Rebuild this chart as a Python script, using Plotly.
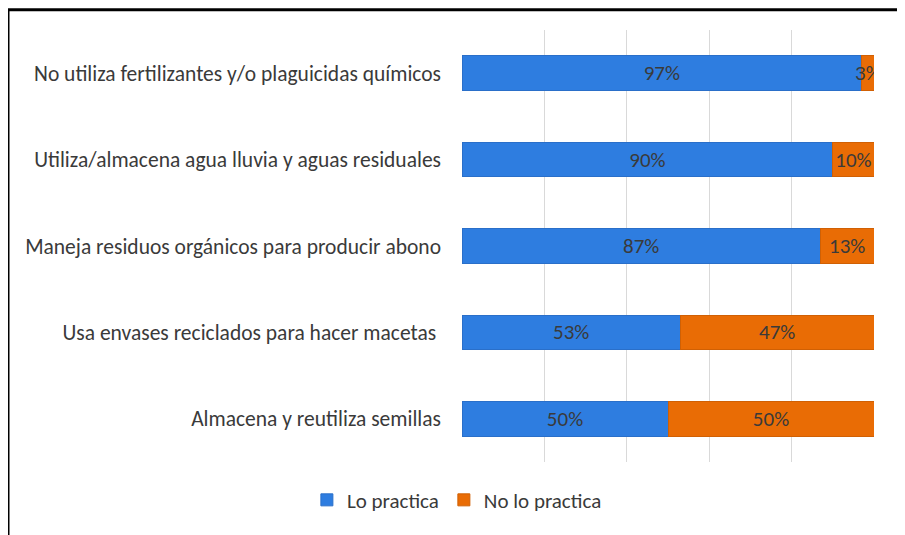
import plotly.graph_objects as go

categories = [
    "No utiliza fertilizantes y/o plaguicidas químicos",
    "Utiliza/almacena agua lluvia y aguas residuales",
    "Maneja residuos orgánicos para producir abono",
    "Usa envases reciclados para hacer macetas ",
    "Almacena y reutiliza semillas",
]
lo_practica = [97, 90, 87, 53, 50]
no_lo_practica = [3, 10, 13, 47, 50]

blue = "#2E7DE0"
orange = "#E96C05"
text_col = "#3A3A3A"
font_fam = "Carlito, 'Open Sans', sans-serif"

fig = go.Figure()
fig.add_trace(go.Bar(
    y=categories, x=lo_practica, name="Lo practica", orientation="h",
    marker=dict(color=blue, line=dict(color="#2A6FC9", width=1)),
    text=[f"{v}%" for v in lo_practica], textposition="inside",
    insidetextanchor="middle", textangle=0, constraintext="none",
    textfont=dict(color=text_col, size=21),
))
fig.add_trace(go.Bar(
    y=categories, x=no_lo_practica, name="No lo practica", orientation="h",
    marker=dict(color=orange, line=dict(color="#D06004", width=1)),
    text=[f"{v}%" for v in no_lo_practica], textposition="inside",
    insidetextanchor="middle", textangle=0, constraintext="none",
    textfont=dict(color=text_col, size=21),
))

# page body has an 8px offset, so the plot box is placed 8px up/left
fig.update_layout(
    barmode="stack", bargap=0.6,
    width=905, height=535,
    margin=dict(l=454, r=39, t=22, b=81),
    paper_bgcolor="white", plot_bgcolor="white",
    font=dict(family=font_fam, color=text_col, size=21),
    uniformtext=dict(minsize=21, mode="show"),
    legend=dict(orientation="h", xref="container", yref="container",
                x=0.496, y=0.08, xanchor="center", yanchor="middle",
                traceorder="normal",
                font=dict(size=21, color=text_col)),
    shapes=[
        dict(type="line", xref="paper", yref="paper",
             x0=-454 / 412, x1=-454 / 412, y0=-0.3, y1=1.047,
             line=dict(color="black", width=3)),
        dict(type="line", xref="paper", yref="paper",
             x0=-454 / 412, x1=1.2, y0=1.047, y1=1.047,
             line=dict(color="black", width=3)),
    ],
)
fig.update_xaxes(range=[0, 100], dtick=20, showticklabels=False,
                 showgrid=True, gridcolor="#D9D9D9", zeroline=False)
fig.update_yaxes(autorange="reversed", ticklabelstandoff=20,
                 automargin=False,
                 tickfont=dict(size=21.5, color=text_col),
                 showgrid=False)

fig.write_html("out.html")
